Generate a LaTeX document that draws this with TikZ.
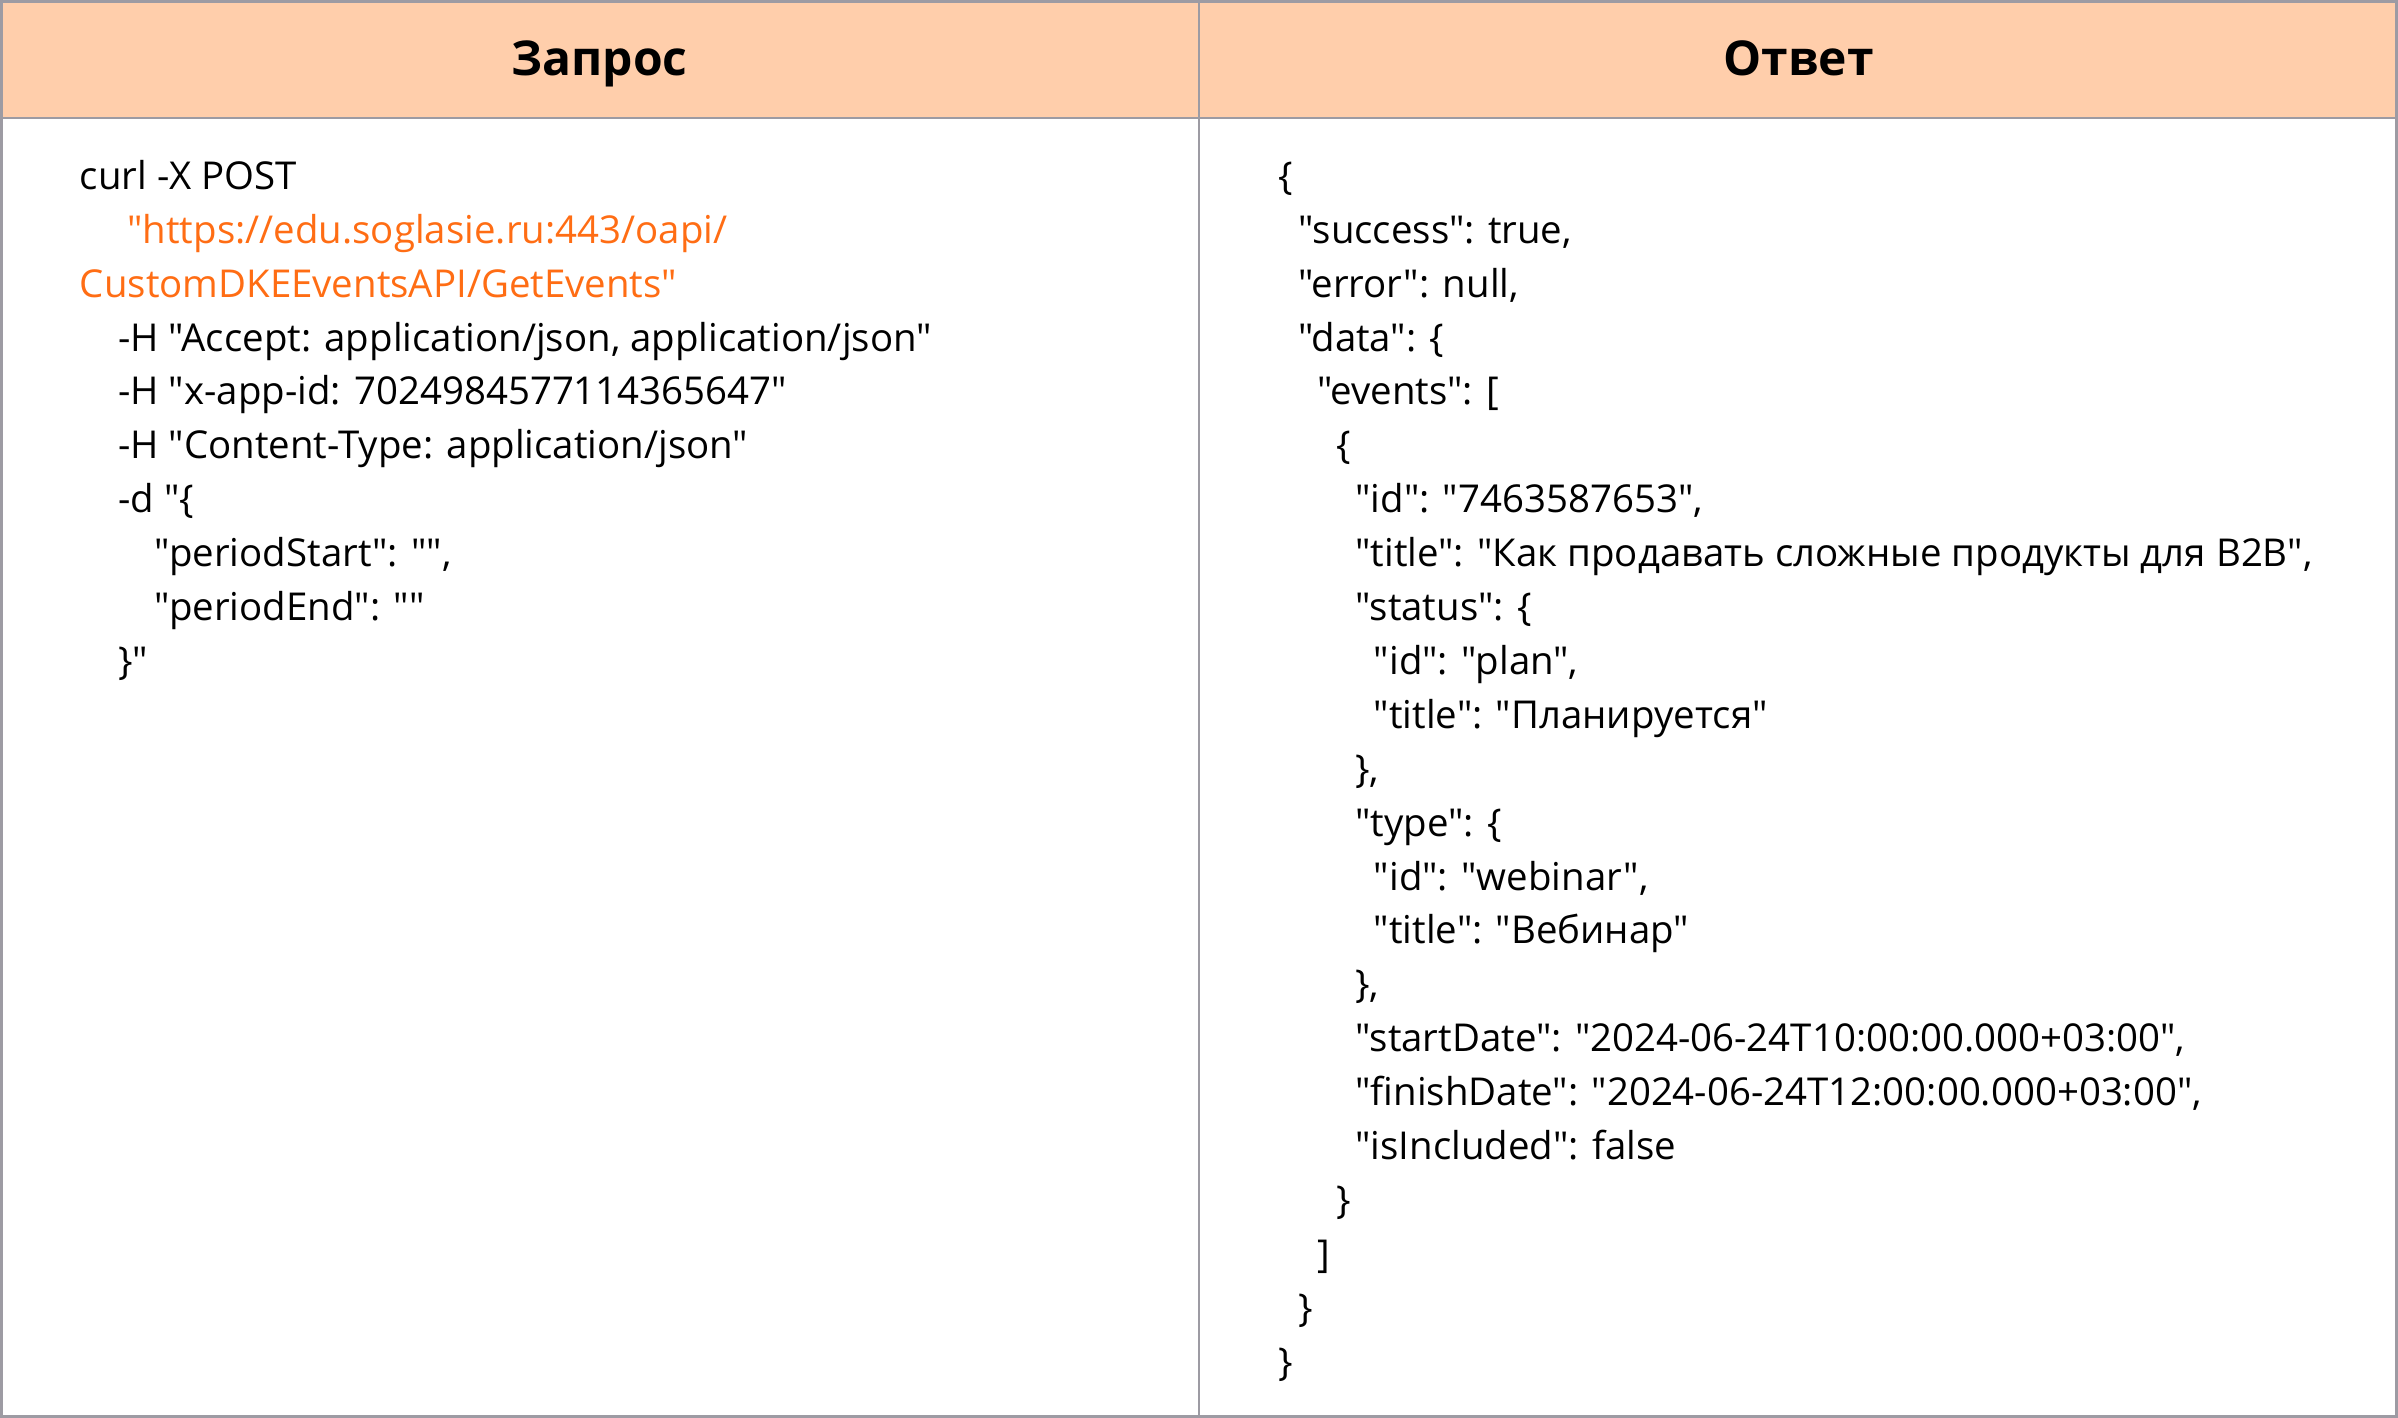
\documentclass[tikz,border=0pt]{standalone}
\usepackage{fontspec}
\setmainfont{Open Sans}[Ligatures=TeXOff]
\definecolor{headfill}{HTML}{FFCEAB}
\definecolor{gridgray}{HTML}{9D9BA3}
\definecolor{urlorange}{HTML}{FF6D14}
\tikzset{
  grid/.style={draw=gridgray, line width=1.4pt},
  code/.style={anchor=base west, inner sep=0pt, font=\fontsize{19.2}{27}\selectfont, text=black},
  url/.style={code, text=urlorange},
  head/.style={anchor=base, inner sep=0pt, font=\fontsize{24}{28}\selectfont\bfseries, text=black}
}
\begin{document}
\begin{tikzpicture}[x=0.5pt,y=-0.5pt]
\useasboundingbox (0,0) rectangle (2398,1418);
\fill[headfill] (0,0) rectangle (2398,118);
\draw[grid] (1.5,1.5) rectangle (2396.5,1416.5);
\draw[grid] (0,118) -- (2398,118);
\draw[grid] (1199,0) -- (1199,1418);
\node[head] (hreq) at (599.5,76) {Запрос};
\node[head] (hresp) at (1798.5,76) {Ответ};
% left column
\node[code] (q1) at (79.5,189.3) {curl -X POST};
\node[url] (q2) at (127,243.2) {"https://edu.soglasie.ru:443/oapi/};
\node[url] (q3) at (79.5,297.1) {CustomDKEEventsAPI/GetEvents"};
\node[code] (q4) at (117.8,351.0) {-H "Accept: application/json, application/json"};
\node[code] (q5) at (117.8,404.9) {-H "x-app-id: 7024984577114365647"};
\node[code] (q6) at (117.8,458.8) {-H "Content-Type: application/json"};
\node[code] (q7) at (117.8,512.7) {-d "\{};
\node[code] (q8) at (154.5,566.6) {"periodStart": "",};
\node[code] (q9) at (154.5,620.5) {"periodEnd": ""};
\node[code] (q10) at (117.8,674.4) {\}"};
% right column
\node[code] (r1) at (1278.5,189.3) {\{};
\node[code] (r2) at (1298,243.2) {"success": true,};
\node[code] (r3) at (1298,297.1) {"error": null,};
\node[code] (r4) at (1298,351.0) {"data": \{};
\node[code] (r5) at (1317,404.9) {"events": [};
\node[code] (r6) at (1336.5,458.8) {\{};
\node[code] (r7) at (1355,512.7) {"id": "7463587653",};
\node[code] (r8) at (1355,566.6) {"title": "Как продавать сложные продукты для B2B",};
\node[code] (r9) at (1355,620.5) {"status": \{};
\node[code] (r10) at (1373.5,674.4) {"id": "plan",};
\node[code] (r11) at (1373.5,728.3) {"title": "Планируется"};
\node[code] (r12) at (1355,782.2) {\},};
\node[code] (r13) at (1355,836.1) {"type": \{};
\node[code] (r14) at (1373.5,890.0) {"id": "webinar",};
\node[code] (r15) at (1373.5,943.9) {"title": "Вебинар"};
\node[code] (r16) at (1355,997.8) {\},};
\node[code] (r17) at (1355,1051.7) {"startDate": "2024-06-24T10:00:00.000+03:00",};
\node[code] (r18) at (1355,1105.6) {"finishDate": "2024-06-24T12:00:00.000+03:00",};
\node[code] (r19) at (1355,1159.5) {"isIncluded": false};
\node[code] (r20) at (1336.5,1213.4) {\}};
\node[code] (r21) at (1317,1267.3) {]};
\node[code] (r22) at (1298,1321.2) {\}};
\node[code] (r23) at (1278.5,1375.1) {\}};
\end{tikzpicture}
\end{document}
